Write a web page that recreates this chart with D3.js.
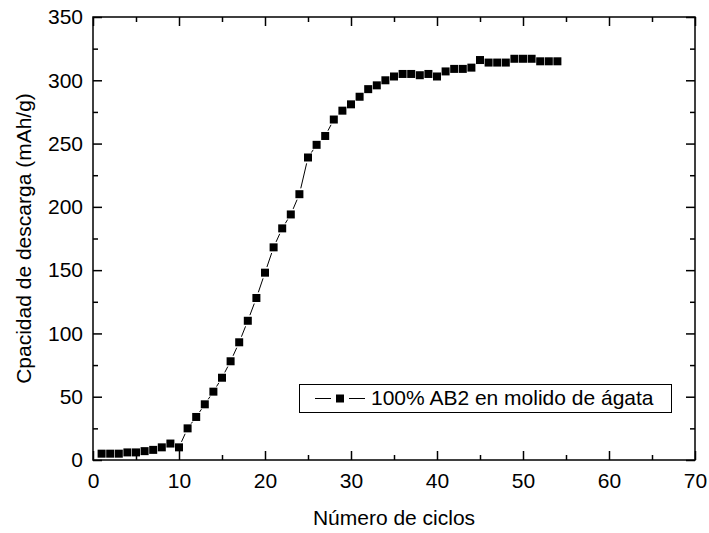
<!DOCTYPE html>
<html>
<head>
<meta charset="utf-8">
<script src="https://cdn.jsdelivr.net/npm/d3@7"></script>
<style>
  body { margin: 0; background: #fff; }
  svg { display: block; font-family: "Liberation Sans", Arial, sans-serif; }
</style>
</head>
<body>
<svg id="chart" width="709" height="533"></svg>
<script>
// cycle number vs discharge capacity
var cycles = d3.range(1, 55)
var capacity = [
  5, 5, 5, 6, 6, 7, 8, 10, 13, 10,
  25, 34, 44, 54, 65, 78, 93, 110, 128, 148,
  168, 183, 194, 210, 239, 249, 256, 269, 276, 281,
  287, 293, 296, 300, 303, 305, 305, 304, 305, 303,
  307, 309, 309, 310, 316, 314, 314, 314, 317, 317,
  317, 315, 315, 315
]
var xTicks = [0, 10, 20, 30, 40, 50, 60, 70]
var yTicks = [0, 50, 100, 150, 200, 250, 300, 350]
var seriesName = '100% AB2 en molido de ágata'

var svg = d3.select('#chart')
var plotLeft = 93, plotRight = 695, plotTop = 17, plotBottom = 460

var x = d3.scaleLinear().domain([0, 70]).range([plotLeft, plotRight])
var y = d3.scaleLinear().domain([0, 350]).range([plotBottom, plotTop])

var data = cycles.map(function (c, i) { return { x: c, y: capacity[i] } })

// minor ticks every 5 / 25
var xMinor = d3.range(5, 70, 10)
var yMinor = d3.range(25, 350, 50)

function tickAxis (axis) {
  return function (g) {
    g.call(axis)
    g.select('.domain').remove()
    g.selectAll('.tick line').attr('stroke', '#000').attr('stroke-width', 1.5)
    g.selectAll('.tick text').attr('fill', '#000').attr('font-size', 21)
      .attr('font-family', '"Liberation Sans", Arial, sans-serif')
  }
}

// bottom
svg.append('g').attr('transform', 'translate(0,' + plotBottom + ')')
  .call(tickAxis(d3.axisBottom(x).tickValues(xTicks).tickSize(-9).tickPadding(13)))
svg.append('g').attr('transform', 'translate(0,' + plotBottom + ')')
  .call(tickAxis(d3.axisBottom(x).tickValues(xMinor).tickSize(-5).tickFormat('')))
// top
svg.append('g').attr('transform', 'translate(0,' + plotTop + ')')
  .call(tickAxis(d3.axisTop(x).tickValues(xTicks).tickSize(-9).tickFormat('')))
svg.append('g').attr('transform', 'translate(0,' + plotTop + ')')
  .call(tickAxis(d3.axisTop(x).tickValues(xMinor).tickSize(-5).tickFormat('')))
// left
svg.append('g').attr('transform', 'translate(' + plotLeft + ',0)')
  .call(tickAxis(d3.axisLeft(y).tickValues(yTicks).tickSize(-9).tickPadding(10)))
svg.append('g').attr('transform', 'translate(' + plotLeft + ',0)')
  .call(tickAxis(d3.axisLeft(y).tickValues(yMinor).tickSize(-5).tickFormat('')))
// right
svg.append('g').attr('transform', 'translate(' + plotRight + ',0)')
  .call(tickAxis(d3.axisRight(y).tickValues(yTicks).tickSize(-9).tickFormat('')))
svg.append('g').attr('transform', 'translate(' + plotRight + ',0)')
  .call(tickAxis(d3.axisRight(y).tickValues(yMinor).tickSize(-5).tickFormat('')))

svg.append('rect')
  .attr('x', plotLeft).attr('y', plotTop)
  .attr('width', plotRight - plotLeft).attr('height', plotBottom - plotTop)
  .attr('fill', 'none').attr('stroke', '#000').attr('stroke-width', 1.5)

// series: line segments stop short of the symbols
var gap = 6
var pairs = d3.pairs(data)
svg.append('g').selectAll('line').data(pairs).join('line')
  .each(function (p) {
    var x1 = x(p[0].x), y1 = y(p[0].y), x2 = x(p[1].x), y2 = y(p[1].y)
    var len = Math.hypot(x2 - x1, y2 - y1)
    if (len <= 2 * gap + 1) { d3.select(this).remove(); return }
    var ux = (x2 - x1) / len, uy = (y2 - y1) / len
    d3.select(this)
      .attr('x1', x1 + ux * gap).attr('y1', y1 + uy * gap)
      .attr('x2', x2 - ux * gap).attr('y2', y2 - uy * gap)
  })
  .attr('stroke', '#000').attr('stroke-width', 1)

var ms = 8
svg.append('g').selectAll('rect').data(data).join('rect')
  .attr('x', function (d) { return x(d.x) - ms / 2 })
  .attr('y', function (d) { return y(d.y) - ms / 2 })
  .attr('width', ms).attr('height', ms)
  .attr('fill', '#000')

// axis titles
svg.append('text')
  .attr('x', (plotLeft + plotRight) / 2).attr('y', 525)
  .attr('text-anchor', 'middle').attr('font-size', 21)
  .text('Número de ciclos')

svg.append('text')
  .attr('transform', 'translate(31,' + ((plotTop + plotBottom) / 2) + ') rotate(-90)')
  .attr('text-anchor', 'middle').attr('font-size', 21)
  .text('Cpacidad de descarga (mAh/g)')

// legend
var lg = svg.append('g')
lg.append('rect')
  .attr('x', 299.5).attr('y', 384.5).attr('width', 372).attr('height', 28)
  .attr('fill', '#fff').attr('stroke', '#000').attr('stroke-width', 1)
lg.append('line')
  .attr('x1', 315).attr('x2', 331).attr('y1', 398.5).attr('y2', 398.5)
  .attr('stroke', '#000').attr('stroke-width', 1)
lg.append('line')
  .attr('x1', 349).attr('x2', 365).attr('y1', 398.5).attr('y2', 398.5)
  .attr('stroke', '#000').attr('stroke-width', 1)
lg.append('rect')
  .attr('x', 340 - ms / 2).attr('y', 398.5 - ms / 2).attr('width', ms).attr('height', ms)
  .attr('fill', '#000')
lg.append('text')
  .attr('x', 371).attr('y', 405).attr('font-size', 21)
  .text(seriesName)
</script>
</body>
</html>
